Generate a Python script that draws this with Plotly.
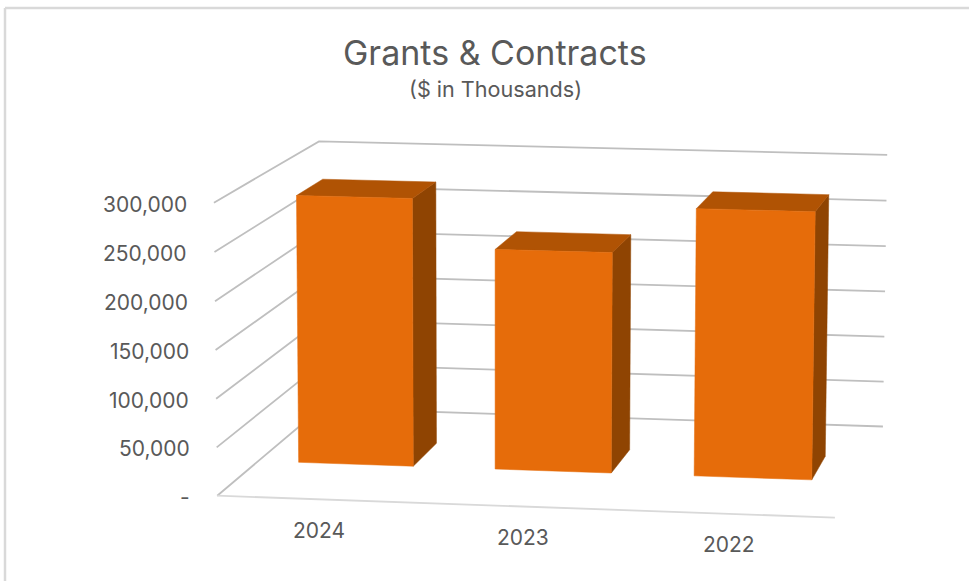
import numpy as np
import plotly.graph_objects as go

# Chart data ($ in thousands)
years = ["2024", "2023", "2022"]
grants = [283000, 232000, 280000]
tick_values = [0, 50000, 100000, 150000, 200000, 250000, 300000]
tick_labels = ["-", "50,000", "100,000", "150,000", "200,000", "250,000", "300,000"]
z_max = 300000

# Plot box corners (category, depth, value fractions) and where they sit on the page
box_corners = [(0, 0, 0), (1, 0, 0), (1, 1, 0), (0, 1, 0), (0, 0, 1), (0, 1, 1), (1, 1, 1)]
page_corners = [(218, 495), (835, 518), (883, 426), (320, 409), (213, 203), (320, 141), (887, 155)]

# Column footprint inside each category slot and in the depth direction
bar_width = 0.195
slot_shift = -0.0005
depth_front, depth_back = 0.375, 0.635


def solve_camera(world, page):
    rows, rhs = [], []
    for (x, y, z), (u, v) in zip(world, page):
        rows.append([x, y, z, 1, 0, 0, 0, 0, -u * x, -u * y, -u * z])
        rhs.append(u)
        rows.append([0, 0, 0, 0, x, y, z, 1, -v * x, -v * y, -v * z])
        rhs.append(v)
    p = np.linalg.lstsq(np.array(rows, float), np.array(rhs, float), rcond=None)[0]
    return np.append(p, 1.0).reshape(3, 4)


camera = solve_camera(box_corners, page_corners)


def project(x, y, value):
    h = camera @ np.array([x, y, value / z_max, 1.0])
    return h[0] / h[2], h[1] / h[2]


def path(points):
    uv = [project(*p) for p in points]
    return [p[0] for p in uv], [p[1] for p in uv]


fig = go.Figure()


def add_line(points, color, width):
    xs, ys = path(points)
    fig.add_trace(go.Scatter(x=xs, y=ys, mode="lines", hoverinfo="skip", showlegend=False,
                             line=dict(color=color, width=width)))


def add_face(points, color, name, value):
    xs, ys = path(points + points[:1])
    fig.add_trace(go.Scatter(x=xs, y=ys, mode="lines", fill="toself", fillcolor=color,
                             line=dict(color=color, width=0.5), showlegend=False,
                             name=name, hovertemplate=f"{name}: {value:,}<extra></extra>"))


# Walls: gridlines run along the left wall and then the back wall
for v in tick_values:
    add_line([(0, 0, v), (0, 1, v), (1, 1, v)], "#BFBFBF", 1.8)
# Front edge of the floor
add_line([(0, 0, 0), (1, 0, 0)], "#D9D9D9", 1.8)

# Columns
FRONT, TOP, SIDE = "#E66C0A", "#B05304", "#8F4402"
for i, (year, value) in enumerate(zip(years, grants)):
    mid = (i + 0.5) / len(years) + slot_shift
    x0, x1 = mid - bar_width / 2, mid + bar_width / 2
    y0, y1 = depth_front, depth_back
    add_face([(x1, y0, 0), (x1, y1, 0), (x1, y1, value), (x1, y0, value)], SIDE, year, value)
    add_face([(x0, y0, value), (x1, y0, value), (x1, y1, value), (x0, y1, value)], TOP, year, value)
    add_face([(x0, y0, 0), (x1, y0, 0), (x1, y0, value), (x0, y0, value)], FRONT, year, value)

annotations = [
    dict(x=495, y=52, text="Grants &amp; Contracts", font=dict(size=34, color="#595959")),
    dict(x=495.5, y=89, text="($ in Thousands)", font=dict(size=21.6, color="#595959")),
]
for v, label in zip(tick_values, tick_labels):
    u, w = project(0, 0, v)
    annotations.append(dict(x=u - 25, y=w + 1.5, text=label, xanchor="right",
                            font=dict(size=21, color="#595959")))
for i, year in enumerate(years):
    u, w = project((i + 0.5) / len(years), 0, 0)
    annotations.append(dict(x=u + 1 - i, y=w + 31, text=year, font=dict(size=21, color="#595959")))
for a in annotations:
    a.update(showarrow=False, xref="x", yref="y")
    a.setdefault("xanchor", "center")
    a["yanchor"] = "middle"
    a["font"]["family"] = "Inter"

fig.update_layout(
    width=969, height=581, margin=dict(l=0, r=0, t=0, b=0),
    paper_bgcolor="white", plot_bgcolor="white", showlegend=False,
    xaxis=dict(range=[0, 969], visible=False, fixedrange=True),
    yaxis=dict(range=[581, 0], visible=False, fixedrange=True),
    annotations=annotations,
    shapes=[
        dict(type="line", xref="x", yref="y", x0=5, x1=969, y0=8, y1=8, line=dict(color="#D9D9D9", width=2.5)),
        dict(type="line", xref="x", yref="y", x0=5, x1=5, y0=8, y1=581, line=dict(color="#D9D9D9", width=2.5)),
    ],
)
fig.write_html("out.html", config=dict(displayModeBar=False))
